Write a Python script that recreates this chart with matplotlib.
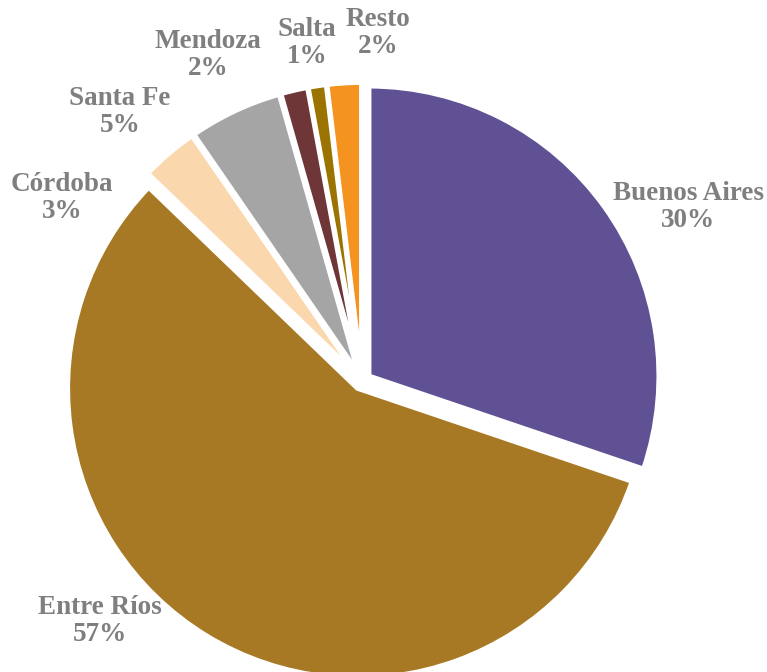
import matplotlib
matplotlib.use("Agg")
import matplotlib.pyplot as plt

provinces = ["Buenos Aires", "Entre Ríos", "Córdoba", "Santa Fe", "Mendoza", "Salta", "Resto"]
shares = [30.2, 57.0, 3.2, 5.2, 1.5, 1.0, 1.9]
pct_labels = ["30%", "57%", "3%", "5%", "2%", "1%", "2%"]
colors = ["#5F5193", "#A87925", "#FBD7AE", "#A5A5A5", "#6E3637", "#9A7300", "#F4931F"]
# label positions (data units, pie radius = 1)
label_pos = [(1.136, 0.606), (-0.913, -0.835), (-1.045, 0.638), (-0.843, 0.937),
             (-0.537, 1.136), (-0.192, 1.178), (0.056, 1.213)]

fig = plt.figure(figsize=(7.67, 6.72), dpi=100)
ax = fig.add_axes([0, 0, 1, 1])
ax.pie(shares, colors=colors, startangle=90, counterclock=False,
       radius=1.01, explode=[0.03] * len(shares),
       wedgeprops=dict(edgecolor="white", linewidth=3.5))
ax.set_xlim(-362 / 287, (767 - 362) / 287)
ax.set_ylim(-(672 - 381) / 287, 381 / 287)
ax.set_aspect("auto")
ax.axis("off")

for name, pct, (x, y) in zip(provinces, pct_labels, label_pos):
    ax.text(x, y, f"{name}\n{pct}", ha="center", va="center",
            fontsize=19.5, fontweight="bold", color="#7F7F7F",
            family="Liberation Serif", linespacing=1.1)

fig.savefig("out.png", dpi=100, facecolor="white")
